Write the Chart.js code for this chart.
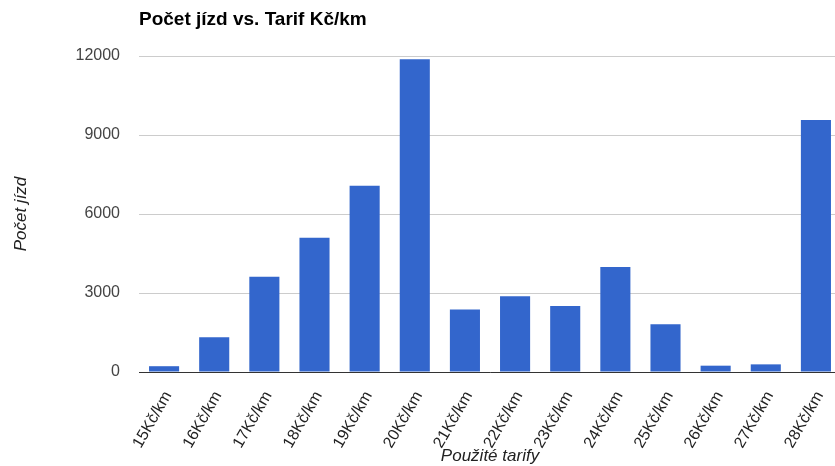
<!DOCTYPE html>
<html>
<head>
<meta charset="utf-8">
<script src="https://cdn.jsdelivr.net/npm/chart.js@4"></script>
<style>
  html, body { margin: 0; padding: 0; background: #fff; overflow: hidden; }
  #wrap { width: 841px; height: 466px; }
</style>
</head>
<body>
<div id="wrap"><canvas id="tarifChart" width="841" height="466"></canvas></div>
<script>
const tarify = ['15Kč/km', '16Kč/km', '17Kč/km', '18Kč/km', '19Kč/km', '20Kč/km', '21Kč/km',
                '22Kč/km', '23Kč/km', '24Kč/km', '25Kč/km', '26Kč/km', '27Kč/km', '28Kč/km'];
const pocetJizd = [220, 1320, 3620, 5100, 7070, 11880, 2370, 2880, 2510, 3990, 1810, 240, 290, 9570];
const yTicks = [0, 3000, 6000, 9000, 12000];

const FONT = "'Liberation Sans', Arial, sans-serif";

// title drawn at the left edge of the plot area, like Google Charts does
const titlePlugin = {
    id: 'leftTitle',
    afterDraw(chart) {
        const ctx = chart.ctx;
        ctx.save();
        ctx.font = 'bold 19px ' + FONT;
        ctx.fillStyle = '#000';
        ctx.textAlign = 'left';
        ctx.textBaseline = 'alphabetic';
        ctx.fillText('Počet jízd vs. Tarif Kč/km', chart.chartArea.left, 25);
        ctx.restore();
    }
};

new Chart(document.getElementById('tarifChart'), {
    type: 'bar',
    data: {
        labels: tarify,
        datasets: [{
            label: 'Počet jízd',
            data: pocetJizd,
            backgroundColor: '#3366cc',
            barPercentage: 0.6,
            categoryPercentage: 1
        }]
    },
    options: {
        responsive: false,
        animation: false,
        layout: { padding: { top: 56, left: 0, right: 0, bottom: 0 } },
        plugins: {
            legend: { display: false },
            tooltip: { enabled: false }
        },
        scales: {
            y: {
                min: 0,
                max: 12000,
                afterBuildTicks: (scale) => { scale.ticks = yTicks.map(v => ({ value: v })); },
                afterFit: (scale) => { scale.width = 139; },
                border: { display: false },
                grid: { color: '#cccccc', drawTicks: false },
                ticks: {
                    color: '#444',
                    padding: 19,
                    font: { family: FONT, size: 16 },
                    callback: (v) => String(v)
                },
                title: {
                    display: true,
                    text: 'Počet jízd',
                    color: '#222',
                    padding: { top: 11, bottom: 0 },
                    font: { family: FONT, size: 17, style: 'italic' }
                }
            },
            x: {
                afterFit: (scale) => {
                    scale.height = 94;
                    // keep the plot area running to the right edge
                    scale.paddingLeft = 0;
                    scale.paddingRight = 0;
                },
                border: { display: true, color: '#333', width: 1 },
                grid: { display: false, drawTicks: false },
                ticks: {
                    color: '#222',
                    autoSkip: false,
                    maxRotation: 60,
                    minRotation: 60,
                    padding: 16,
                    labelOffset: 4,
                    font: { family: FONT, size: 16 }
                },
                title: {
                    display: true,
                    text: 'Použité tarify',
                    color: '#222',
                    padding: { top: 0, bottom: 0 },
                    font: { family: FONT, size: 17, style: 'italic' }
                }
            }
        }
    },
    plugins: [titlePlugin]
});
</script>
</body>
</html>
